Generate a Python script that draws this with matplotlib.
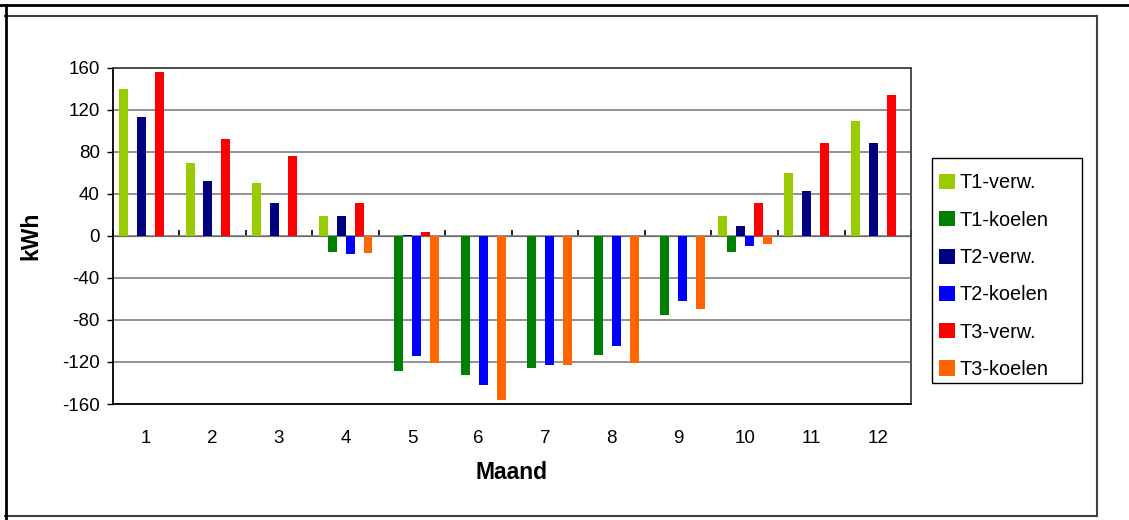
import numpy as np
import matplotlib.pyplot as plt
from matplotlib.lines import Line2D
from matplotlib.patches import Rectangle

plt.rcParams['font.family'] = ['Liberation Sans', 'DejaVu Sans']
plt.rcParams['axes.unicode_minus'] = False

# data
maanden = [1, 2, 3, 4, 5, 6, 7, 8, 9, 10, 11, 12]
t1_verw = [140, 69, 50, 19, 0, 0, 0, 0, 0, 19, 60, 109]
t1_koelen = [0, 0, 0, -15, -129, -132, -126, -113, -75, -15, 0, 0]
t2_verw = [113, 52, 31, 19, 1, 0, 0, 0, 0, 9, 43, 88]
t2_koelen = [0, 0, 0, -17, -114, -142, -123, -105, -62, -10, 0, 0]
t3_verw = [156, 92, 76, 31, 4, 0, 0, 0, 0, 31, 88, 134]
t3_koelen = [0, 0, 0, -16, -121, -156, -123, -121, -70, -8, 0, 0]

series = [t1_verw, t1_koelen, t2_verw, t2_koelen, t3_verw, t3_koelen]
labels = ['T1-verw.', 'T1-koelen', 'T2-verw.', 'T2-koelen', 'T3-verw.', 'T3-koelen']
colors = ['#99CC00', '#008000', '#000080', '#0000FF', '#FF0000', '#FF6600']

W, H = 1129, 520
fig = plt.figure(figsize=(W / 100, H / 100), dpi=100)
ax = fig.add_axes([0.0998, 0.223, 0.7072, 0.647])

x = np.arange(1, len(maanden) + 1)
w = 0.135
for i, (vals, lab, col) in enumerate(zip(series, labels, colors)):
    ax.bar(x + (i - 2.5) * w, vals, width=w, color=col, label=lab, zorder=3)

ax.set_xlim(0.5, 12.5)
ax.set_ylim(-160, 160)
ax.set_yticks(np.arange(-160, 161, 40))
ax.grid(axis='y', color='#808080', linewidth=1.2, zorder=0)

ax.set_xticks(x)
ax.set_xticklabels([str(m) for m in maanden])
ax.tick_params(axis='x', length=0, pad=19, labelsize=13.5)
ax.tick_params(axis='y', direction='out', length=4.3, width=1, pad=5, labelsize=13.5)

for s in ['left', 'bottom']:
    ax.spines[s].set_color('black')
    ax.spines[s].set_linewidth(1.3)
for s in ['top', 'right']:
    ax.spines[s].set_color('#404040')
    ax.spines[s].set_linewidth(1.3)

# nul-as met streepjes tussen de maanden
sec = ax.secondary_xaxis(0.5)
sec.set_xticks(np.arange(0.5, 13, 1))
sec.set_xticklabels([])
sec.tick_params(direction='out', length=4.5, width=1.2, color='black')
sec.spines['bottom'].set_color('black')
sec.spines['bottom'].set_linewidth(1.3)

ax.set_ylabel('kWh', fontsize=16.5, fontweight='bold', labelpad=14)
ax.set_xlabel('Maand', fontsize=16.5, fontweight='bold', labelpad=10)

# legenda met eigen kader
leg = fig.legend(loc='upper left', bbox_to_anchor=(939 / W, 1 - 173.5 / H), fontsize=14.3,
                 frameon=False, handlelength=0.8, handleheight=0.8,
                 handletextpad=0.25, labelspacing=0.92, borderpad=0, borderaxespad=0)
fig.add_artist(Rectangle((932 / W, 1 - 383 / H), 150 / W, 225 / H, transform=fig.transFigure,
                         fill=False, edgecolor='black', linewidth=1))

# kaders rond de grafiek
def fl(x0, y0, x1, y1, c, lw):
    fig.add_artist(Line2D([x0 / W, x1 / W], [1 - y0 / H, 1 - y1 / H], color=c, linewidth=lw))

fl(5, 15.5, 1097, 15.5, '#404040', 1.5)
fl(1097, 15.5, 1097, 516, '#404040', 1.5)
fl(5, 516, 1097, 516, '#404040', 1.5)
fl(0, 5.3, W, 5.3, 'black', 2)
fl(6, 5, 6, H, 'black', 2)

fig.savefig('out.png', dpi=100)
